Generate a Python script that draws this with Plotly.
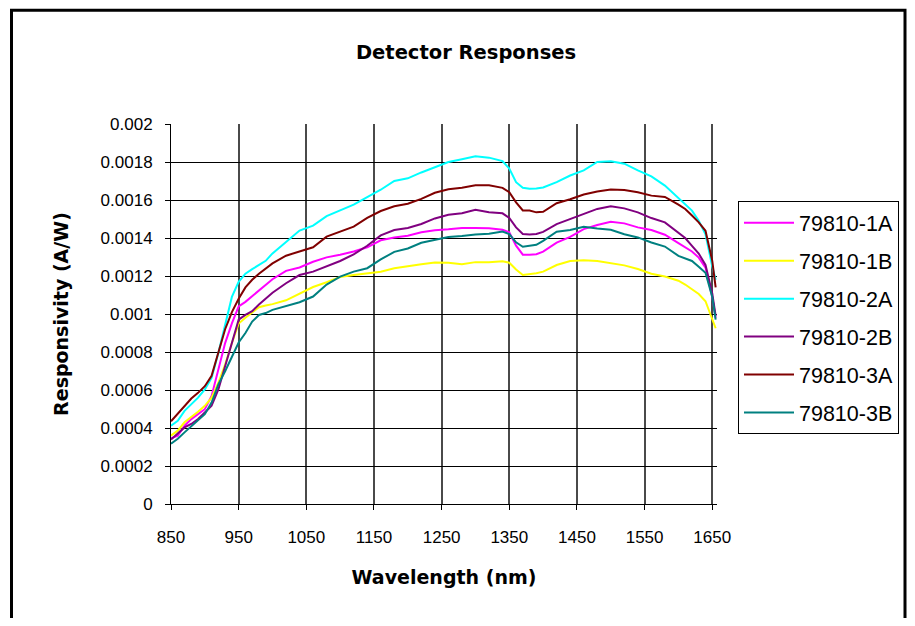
import plotly.graph_objects as go

wavelength = [850, 860, 870, 880, 890, 900, 910, 920, 930, 940, 950, 960, 970, 980, 990, 1000,
              1020, 1040, 1060, 1080, 1100, 1120, 1140, 1160, 1180, 1200, 1220, 1240, 1260, 1280,
              1300, 1320, 1340, 1350, 1360, 1370, 1380, 1390, 1400, 1420, 1440, 1460, 1480, 1500,
              1520, 1540, 1560, 1580, 1600, 1610, 1620, 1630, 1640, 1650, 1655]

r_1A = [0.000346, 0.00036, 0.000412, 0.000447, 0.000473, 0.000499, 0.000569, 0.000708, 0.000847, 0.000951,
        0.00104, 0.001064, 0.001094, 0.001123, 0.001153, 0.001183, 0.001227, 0.001245, 0.001275, 0.001298,
        0.001312, 0.001329, 0.001351, 0.001388, 0.001403, 0.001412, 0.00143, 0.001441, 0.001446, 0.001453,
        0.001453, 0.001451, 0.001444, 0.00143, 0.00136, 0.001312, 0.001312, 0.001315, 0.001328, 0.001376,
        0.001406, 0.001447, 0.001468, 0.001486, 0.001477, 0.001456, 0.001442, 0.001417, 0.001373, 0.001353,
        0.001329, 0.001297, 0.001244, 0.00109, 0.00098]

r_1B = [0.00036, 0.000386, 0.00043, 0.000456, 0.000485, 0.000517, 0.00056, 0.000638, 0.000734, 0.000847,
        0.00095, 0.00098, 0.00101, 0.001036, 0.001045, 0.001052, 0.001072, 0.001105, 0.001142, 0.001167,
        0.001195, 0.001205, 0.001212, 0.001222, 0.001241, 0.001253, 0.001262, 0.001271, 0.00127, 0.001262,
        0.001273, 0.001273, 0.001278, 0.00127, 0.001234, 0.001205, 0.001209, 0.001214, 0.001223, 0.001258,
        0.001279, 0.001283, 0.001279, 0.001267, 0.001256, 0.001237, 0.001212, 0.001197, 0.001175, 0.001155,
        0.001128, 0.001105, 0.001067, 0.000975, 0.000925]

r_2A = [0.000412, 0.000438, 0.00049, 0.000525, 0.00056, 0.000603, 0.000664, 0.000795, 0.000951, 0.00109,
        0.001169, 0.001212, 0.001236, 0.001256, 0.00128, 0.001319, 0.001377, 0.001439, 0.001465, 0.001515,
        0.001545, 0.001576, 0.001615, 0.001654, 0.0017, 0.001714, 0.001745, 0.001773, 0.0018, 0.001815,
        0.00183, 0.001823, 0.001805, 0.001765, 0.001694, 0.001664, 0.001659, 0.00166, 0.001666, 0.001694,
        0.001729, 0.001756, 0.0018, 0.001804, 0.001791, 0.001756, 0.001724, 0.001676, 0.001611, 0.001579,
        0.001544, 0.001491, 0.00142, 0.00125, 0.00118]

r_2B = [0.000339, 0.000369, 0.000403, 0.000421, 0.000447, 0.000482, 0.000517, 0.000603, 0.000725, 0.000847,
        0.00097, 0.000995, 0.001015, 0.00105, 0.001083, 0.001112, 0.001162, 0.001205, 0.001223, 0.001253,
        0.001279, 0.001314, 0.001359, 0.001414, 0.001442, 0.001453, 0.001474, 0.001503, 0.001522, 0.00153,
        0.001548, 0.001535, 0.00153, 0.001506, 0.001456, 0.001421, 0.001418, 0.001421, 0.001432, 0.001473,
        0.0015, 0.001523, 0.001553, 0.001567, 0.001556, 0.001535, 0.001505, 0.001482, 0.001429, 0.0014,
        0.001359, 0.001318, 0.001258, 0.001108, 0.00099]

r_3A = [0.000435, 0.000475, 0.00052, 0.000555, 0.000585, 0.00062, 0.000675, 0.0008, 0.00092, 0.00101,
        0.00108, 0.00114, 0.00118, 0.001212, 0.001241, 0.001266, 0.001307, 0.00133, 0.001351, 0.001407,
        0.001435, 0.00146, 0.001506, 0.001542, 0.001567, 0.00158, 0.001606, 0.001638, 0.001657, 0.001664,
        0.001677, 0.001677, 0.001664, 0.001641, 0.001588, 0.001545, 0.001545, 0.001535, 0.001538, 0.001583,
        0.001604, 0.001629, 0.001645, 0.001655, 0.001653, 0.001641, 0.001623, 0.001616, 0.001576, 0.001553,
        0.001518, 0.001482, 0.001438, 0.00128, 0.00114]

r_3B = [0.000317, 0.000343, 0.000377, 0.000409, 0.000438, 0.000473, 0.000534, 0.00063, 0.000699, 0.000775,
        0.00085, 0.0009, 0.00096, 0.000995, 0.001005, 0.001022, 0.001042, 0.001062, 0.001092, 0.001155,
        0.001197, 0.001223, 0.001241, 0.001287, 0.001327, 0.001345, 0.001375, 0.001389, 0.001405, 0.001411,
        0.001419, 0.001423, 0.001434, 0.001421, 0.001377, 0.001354, 0.001359, 0.001364, 0.001385, 0.001433,
        0.001442, 0.001459, 0.00145, 0.001443, 0.00142, 0.001403, 0.001376, 0.001355, 0.001306, 0.001291,
        0.001279, 0.001249, 0.001217, 0.00109, 0.00097]

series_names = ["79810-1A", "79810-1B", "79810-2A", "79810-2B", "79810-3A", "79810-3B"]
series_values = [r_1A, r_1B, r_2A, r_2B, r_3A, r_3B]
series_colors = ["#FF00FF", "#FFFF00", "#00FFFF", "#800080", "#800000", "#008080"]

x_ticks = [850, 950, 1050, 1150, 1250, 1350, 1450, 1550, 1650]
y_ticks = [0, 0.0002, 0.0004, 0.0006, 0.0008, 0.001, 0.0012, 0.0014, 0.0016, 0.0018, 0.002]
y_tick_labels = ["0", "0.0002", "0.0004", "0.0006", "0.0008", "0.001", "0.0012", "0.0014",
                 "0.0016", "0.0018", "0.002"]

FONT = "Liberation Sans, Arial, sans-serif"
BOLD = "DejaVu Sans, Liberation Sans, sans-serif"

fig = go.Figure()
for name, vals, col in zip(series_names, series_values, series_colors):
    fig.add_trace(go.Scatter(x=wavelength, y=vals, mode="lines", name=name,
                             legendgroup=name,
                             line=dict(color=col, width=2)))

# page offset of the plot div (body margin); figure sized to fit the window
OFF = 8
W, H = 915 - 2 * OFF, 626 - 2 * OFF
L, R, T, B = 171 - OFF, 717 - OFF, 123.5 - OFF, 504.5 - OFF
pw, ph = R - L, B - T

def px(xp):
    return (xp - OFF - L) / pw

def py(yp):
    return (B - (yp - OFF)) / ph

# open frame: left, top, right edges (no bottom edge)
bx0, bx1 = px(11.5), px(OFF + W - 2)
by_top, by_bot = py(OFF + 1.5), py(OFF + H + 20)
frame_path = f"M {bx0},{by_bot} L {bx0},{by_top} L {bx1},{by_top} L {bx1},{by_bot}"

fig.update_layout(
    width=W, height=H,
    margin=dict(l=L, r=W - R, t=T, b=H - B, autoexpand=False),
    paper_bgcolor="white", plot_bgcolor="white",
    font=dict(family=FONT, size=17, color="black"),
    title=dict(text="<b>Detector Responses</b>", x=px(466), xanchor="center", xref="paper",
               y=1 - (52 - OFF) / H, yanchor="middle", font=dict(size=19.5, family=BOLD)),
    showlegend=True,
    legend=dict(x=px(738), y=py(201), xanchor="left", yanchor="top",
                bordercolor="black", borderwidth=1, bgcolor="white",
                font=dict(size=21.5, family=FONT), tracegroupgap=7,
                itemwidth=50, traceorder="grouped"),
    xaxis=dict(range=[850, 1657], tickvals=x_ticks, ticktext=[str(v) for v in x_ticks],
               showgrid=True, gridcolor="#4a4a4a", gridwidth=1.5,
               showline=True, linecolor="black", linewidth=1,
               ticks="outside", ticklen=5, tickcolor="black",
               zeroline=False, tickfont=dict(size=17), ticklabelstandoff=13,
               title=dict(text="<b>Wavelength (nm)</b>", font=dict(size=19, family=BOLD), standoff=24)),
    yaxis=dict(range=[0, 0.002], tickvals=y_ticks, ticktext=y_tick_labels,
               showgrid=True, gridcolor="black", gridwidth=1,
               showline=True, linecolor="black", linewidth=1,
               ticks="outside", ticklen=5, tickcolor="black",
               zeroline=False, tickfont=dict(size=17), ticklabelstandoff=9,
               title=dict(text="<b>Responsivity (A/W)</b>", font=dict(size=19, family=BOLD), standoff=26)),
    shapes=[dict(type="path", xref="paper", yref="paper", path=frame_path,
                 line=dict(color="black", width=3), fillcolor="rgba(0,0,0,0)", layer="below")],
)

fig.write_html("out.html")
